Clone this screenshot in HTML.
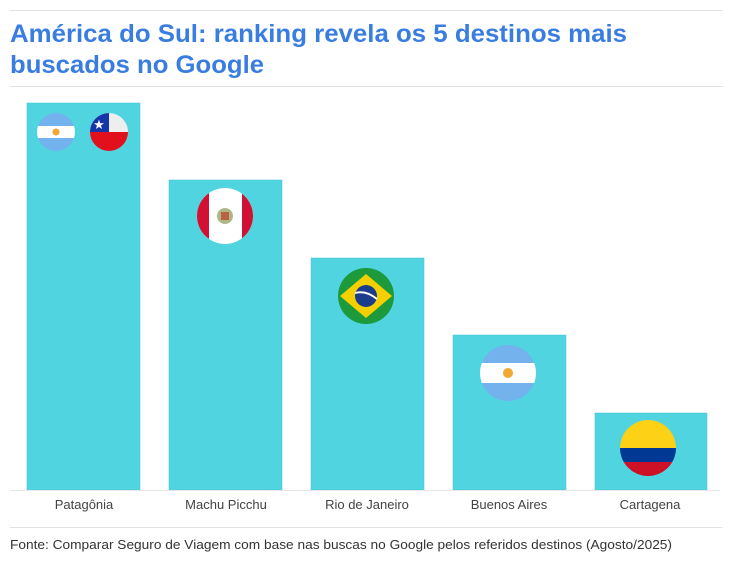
<!DOCTYPE html>
<html><head><meta charset="utf-8"><style>
html,body{margin:0;padding:0;background:#fff;}
svg{display:block;font-family:"Liberation Sans",sans-serif;}
</style></head><body>
<svg width="733" height="561" viewBox="0 0 733 561" xmlns="http://www.w3.org/2000/svg">
<defs>
<clipPath id="c1"><circle cx="56" cy="132" r="19"/></clipPath>
<clipPath id="c2"><circle cx="109" cy="132" r="19"/></clipPath>
<clipPath id="c3"><circle cx="225" cy="216" r="28"/></clipPath>
<clipPath id="c4"><circle cx="366" cy="296" r="28"/></clipPath>
<clipPath id="c5"><circle cx="508" cy="373" r="28"/></clipPath>
<clipPath id="c6"><circle cx="648" cy="448" r="28"/></clipPath>
</defs>
<line x1="10" y1="10.5" x2="723" y2="10.5" stroke="#e2e2e2"/>
<text x="10" y="42" font-size="25" font-weight="bold" fill="#3a7de0" textLength="617" lengthAdjust="spacingAndGlyphs">América do Sul: ranking revela os 5 destinos mais</text>
<text x="10" y="73" font-size="25" font-weight="bold" fill="#3a7de0" textLength="254" lengthAdjust="spacingAndGlyphs">buscados no Google</text>
<line x1="10" y1="86.5" x2="723" y2="86.5" stroke="#e2e2e2"/>
<g fill="#50d4e0" stroke="#3fc4d2" stroke-width="0.5">
<rect x="27" y="103" width="113" height="387"/>
<rect x="169" y="180" width="113" height="310"/>
<rect x="311" y="258" width="113" height="232"/>
<rect x="453" y="335" width="113" height="155"/>
<rect x="595" y="413" width="112" height="77"/>
</g>
<line x1="10" y1="490.5" x2="720" y2="490.5" stroke="#e6e6e6"/>
<!-- Argentina small -->
<g clip-path="url(#c1)"><rect x="30" y="110" width="60" height="50" fill="#74b2ee"/><rect x="30" y="126" width="60" height="12" fill="#fff"/><circle cx="56" cy="132" r="3.5" fill="#f0a830"/></g>
<!-- Chile -->
<g clip-path="url(#c2)"><rect x="85" y="110" width="50" height="22" fill="#eeeeee"/><rect x="85" y="110" width="24" height="22" fill="#1535a8"/><rect x="85" y="132" width="50" height="22" fill="#e2101c"/><text x="99" y="129" font-size="13" fill="#fff" text-anchor="middle">★</text></g>
<!-- Peru -->
<g clip-path="url(#c3)"><rect x="190" y="185" width="70" height="62" fill="#fff"/><rect x="190" y="185" width="19" height="62" fill="#d21034"/><rect x="242" y="185" width="19" height="62" fill="#d21034"/><circle cx="225" cy="216" r="8" fill="#8a9a50" opacity="0.7"/><rect x="221" y="212" width="8" height="8" fill="#c0392b" opacity="0.7"/></g>
<!-- Brazil -->
<g clip-path="url(#c4)"><rect x="335" y="265" width="62" height="62" fill="#1c9a3c"/><polygon points="366,274 392,296 366,318 340,296" fill="#f5d000"/><circle cx="366" cy="296" r="11" fill="#1a3c8c"/><path d="M355,293 Q366,290 377,299" stroke="#fff" stroke-width="2" fill="none"/></g>
<!-- Argentina -->
<g clip-path="url(#c5)"><rect x="478" y="343" width="62" height="62" fill="#74b2ee"/><rect x="478" y="363" width="62" height="20" fill="#fff"/><circle cx="508" cy="373" r="5" fill="#f0a830"/></g>
<!-- Colombia -->
<g clip-path="url(#c6)"><rect x="618" y="418" width="62" height="30" fill="#fcd116"/><rect x="618" y="448" width="62" height="14" fill="#003893"/><rect x="618" y="462" width="62" height="16" fill="#ce1126"/></g>
<g font-size="13" fill="#444" text-anchor="middle">
<text x="84" y="509">Patagônia</text>
<text x="226" y="509">Machu Picchu</text>
<text x="367" y="509">Rio de Janeiro</text>
<text x="509" y="509">Buenos Aires</text>
<text x="650" y="509">Cartagena</text>
</g>
<line x1="10" y1="527.5" x2="723" y2="527.5" stroke="#e2e2e2"/>
<text x="10" y="549" font-size="13" fill="#333" textLength="662" lengthAdjust="spacingAndGlyphs">Fonte: Comparar Seguro de Viagem com base nas buscas no Google pelos referidos destinos (Agosto/2025)</text>
</svg>
</body></html>
